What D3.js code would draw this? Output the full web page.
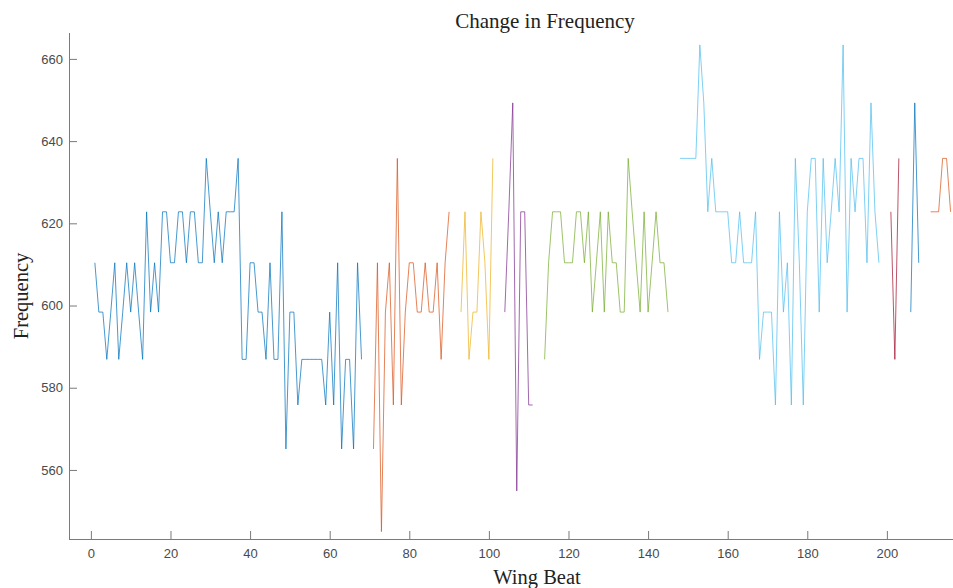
<!DOCTYPE html>
<html><head><meta charset="utf-8">
<script src="https://cdn.jsdelivr.net/npm/d3@7"></script>
<style>body{margin:0;background:#fff}svg{display:block}</style>
</head><body>
<svg id="c" width="953" height="588"></svg>
<script>
// Series: start wing beat + frequency values (one per wing beat)
const blue1Start = 1;
const blue1 = [610.4,598.4,598.4,586.9,598.4,610.4,586.9,598.4,610.4,598.4,610.4,598.4,586.9,622.8,598.4,610.4,598.4,622.8,622.8,610.4,610.4,622.8,622.8,610.4,622.8,622.8,610.4,610.4,635.8,622.8,610.4,622.8,610.4,622.8,622.8,622.8,635.8,586.9,586.9,610.4,610.4,598.4,598.4,586.9,610.4,586.9,586.9,622.8,565.1,598.4,598.4,575.8,586.9,586.9,586.9,586.9,586.9,586.9,575.8,598.4,575.8,610.4,565.1,586.9,586.9,565.1,610.4,586.9];
const orange1Start = 71;
const orange1 = [565.1,610.4,545.0,598.4,610.4,575.8,635.8,575.8,598.4,610.4,610.4,598.4,598.4,610.4,598.4,598.4,610.4,586.9,610.4,622.8];
const yellowStart = 93;
const yellow = [598.4,622.8,586.9,598.4,598.4,622.8,610.4,586.9,635.8];
const purpleStart = 104;
const purple = [598.4,622.8,649.3,554.9,622.8,622.8,575.8,575.8];
const greenStart = 114;
const green = [586.9,610.4,622.8,622.8,622.8,610.4,610.4,610.4,622.8,622.8,610.4,622.8,598.4,610.4,622.8,598.4,622.8,610.4,610.4,598.4,598.4,635.8,622.8,610.4,598.4,622.8,598.4,610.4,622.8,610.4,610.4,598.4];
const cyanStart = 148;
const cyan = [635.8,635.8,635.8,635.8,635.8,663.4,649.3,622.8,635.8,622.8,622.8,622.8,622.8,610.4,610.4,622.8,610.4,610.4,610.4,622.8,586.9,598.4,598.4,598.4,575.8,622.8,598.4,610.4,575.8,635.8,610.4,575.8,622.8,635.8,635.8,598.4,635.8,610.4,622.8,635.8,622.8,663.4,598.4,635.8,622.8,635.8,635.8,610.4,649.3,622.8,610.4];
const redStart = 201;
const red = [622.8,586.9,635.8];
const blue2Start = 206;
const blue2 = [598.4,649.3,610.4];
const orange2Start = 211;
const orange2 = [622.8,622.8,622.8,635.8,635.8,622.8];

const xTicks = [0,20,40,60,80,100,120,140,160,180,200];
const yTicks = [560,580,600,620,640,660];

const seriesList = [
  {start: blue1Start, vals: blue1, color: "#0072BD"},
  {start: orange1Start, vals: orange1, color: "#D95319"},
  {start: yellowStart, vals: yellow, color: "#EDB120"},
  {start: purpleStart, vals: purple, color: "#7E2F8E"},
  {start: greenStart, vals: green, color: "#77AC30"},
  {start: cyanStart, vals: cyan, color: "#4DBEEE"},
  {start: redStart, vals: red, color: "#A2142F"},
  {start: blue2Start, vals: blue2, color: "#0072BD"},
  {start: orange2Start, vals: orange2, color: "#D95319"}
];

const svg = d3.select("#c");
const padL = 69, padB = 539, padT = 33;
const x = d3.scaleLinear().domain([-5.5, 231]).range([padL, padL + 236.5 * 3.98]);
const y = d3.scaleLinear().domain([543.2, 666.3]).range([padB, padT]);

const axisColor = "#7a7a7a";
const tickTextColor = "#4a4a4a";

svg.append("defs").append("clipPath").attr("id","clip")
  .append("rect").attr("x", padL).attr("y", padT - 5).attr("width", 953 - padL).attr("height", padB - padT + 5);

const line = d3.line().x(d => x(d[0])).y(d => y(d[1]));
const g = svg.append("g").attr("clip-path", "url(#clip)");
seriesList.forEach(s => {
  const pts = s.vals.map((v, i) => [s.start + i, v]);
  g.append("path").attr("d", line(pts)).attr("fill", "none")
    .attr("stroke", s.color).attr("stroke-width", 1).attr("stroke-opacity", 0.72)
    .attr("stroke-linejoin", "round");
});

const xAxis = d3.axisBottom(x).tickValues(xTicks).tickSizeInner(-8).tickSizeOuter(0).tickPadding(10);
const gx = svg.append("g").attr("transform", `translate(0,${padB})`).call(xAxis);
gx.select(".domain").attr("d", `M${padL},0.5H953`);
const yAxis = d3.axisLeft(y).tickValues(yTicks).tickSizeInner(-8).tickSizeOuter(0).tickPadding(6);
const gy = svg.append("g").attr("transform", `translate(${padL},0)`).call(yAxis);
gy.select(".domain").attr("d", `M0.5,${padT}V${padB}`);
[gx, gy].forEach(a => {
  a.select(".domain").attr("stroke", axisColor).attr("stroke-width", 1);
  a.selectAll(".tick line").attr("stroke", axisColor);
  a.selectAll(".tick text").attr("fill", tickTextColor)
    .style("font-family", "'Liberation Sans', Arial, sans-serif").style("font-size", "13px");
});

svg.append("text").attr("x", 545).attr("y", 28).attr("text-anchor", "middle")
  .style("font-family", "'Liberation Serif', 'Times New Roman', serif").style("font-size", "21px")
  .attr("fill", "#222").text("Change in Frequency");
svg.append("text").attr("x", 537).attr("y", 584).attr("text-anchor", "middle")
  .style("font-family", "'Liberation Serif', 'Times New Roman', serif").style("font-size", "20.5px")
  .attr("fill", "#222").text("Wing Beat");
svg.append("text").attr("transform", "translate(28,296) rotate(-90)").attr("text-anchor", "middle")
  .style("font-family", "'Liberation Serif', 'Times New Roman', serif").style("font-size", "20.5px")
  .attr("fill", "#222").text("Frequency");
</script>
</body></html>
